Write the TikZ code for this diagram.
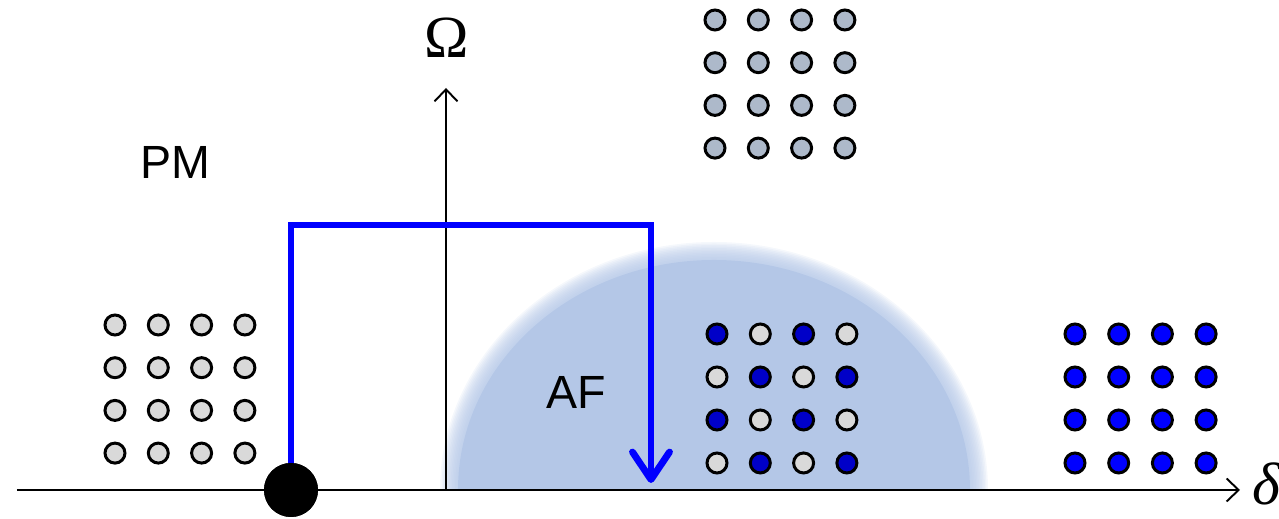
\documentclass[tikz,border=0pt]{standalone}
\usepackage{fontspec}
\setmainfont{Liberation Sans}
\newfontfamily\greekfont{Liberation Serif}
\usetikzlibrary{arrows.meta, positioning}
\definecolor{afblue}{HTML}{B4C7E7}
\definecolor{pmgray}{HTML}{D9D9D9}
\definecolor{hotgray}{HTML}{ADB9CA}
\definecolor{spindk}{HTML}{0000C8}
\definecolor{spinbr}{HTML}{0000FF}
\definecolor{pathblue}{HTML}{0000FF}

\begin{document}
\begin{tikzpicture}[
    x=0.02cm, y=0.02cm,
    axis/.style={line width=1.1pt, -{Straight Barb[length=2.4mm, width=4.6mm]}},
    spin/.style={circle, draw=black, line width=1.7pt, minimum size=0.4cm, inner sep=0pt},
    phase/.style={font=\fontsize{26.5}{30}\selectfont},
    sweep/.style={pathblue, line width=3.9pt,
      -{Straight Barb[length=5.5mm, width=7.4mm, line cap=round, line join=round]}},
  ]

  % Frame of the picture
  \useasboundingbox (-446,-29) rectangle (833,490);

  % === AF dome (soft edge) ===
  \begin{scope}
    \clip (-20,0) rectangle (600,300);
    \fill[afblue] (268,0) ellipse (256 and 230);
    \foreach \d in {-10,-8.5,...,8}
      \fill[afblue, opacity=0.13] (268,0) ellipse ({266+\d} and {240+\d});
  \end{scope}

  % === Axes ===
  \coordinate (origin) at (0,0);
  \coordinate (dleft) at (-429,0);
  \coordinate (dright) at (794,0);
  \coordinate (otop) at (0,402);
  \draw[axis] (dleft) -- (dright);
  \draw[axis] (origin) -- (otop);
  \node[font=\fontsize{34}{40}\selectfont\greekfont] (omega) at (1,452) {Ω};
  \node[font=\fontsize{34}{40}\selectfont\greekfont\itshape] (delta) at (820,6) {δ};

  % === Phase labels ===
  \node[phase] (pm) at (-271,328) {PM};
  \node[phase] (af) at (130,98) {AF};

  % === Spin lattices ===
  % paramagnet
  \foreach \i in {0,...,3}
    \foreach \j in {0,...,3}
      \node[spin, fill=pmgray] (pm-\i-\j) at (-331+43.3*\i, 165-42.7*\j) {};
  % strong drive
  \foreach \i in {0,...,3}
    \foreach \j in {0,...,3}
      \node[spin, fill=hotgray] (top-\i-\j) at (269+43.3*\i, 470-42.7*\j) {};
  % antiferromagnet
  \foreach \i in {0,...,3}
    \foreach \j in {0,...,3} {
      \pgfmathtruncatemacro{\parity}{mod(\i+\j,2)}
      \ifnum\parity=0
        \node[spin, fill=spindk] (af-\i-\j) at (271+43.3*\i, 156-43*\j) {};
      \else
        \node[spin, fill=pmgray] (af-\i-\j) at (271+43.3*\i, 156-43*\j) {};
      \fi
    }
  % polarised
  \foreach \i in {0,...,3}
    \foreach \j in {0,...,3}
      \node[spin, fill=spinbr] (fm-\i-\j) at (629+43.7*\i, 156-43*\j) {};

  % === Sweep path ===
  \node[circle, fill=black, minimum size=1.08cm, inner sep=0pt] (start) at (-155,0) {};
  \coordinate (turn) at (205,265);
  \coordinate (stop) at (205,7);
  \draw[sweep, line join=miter] (start.center) |- (turn) -- (stop);
  \node[circle, fill=black, minimum size=1.08cm, inner sep=0pt] at (start) {};

\end{tikzpicture}
\end{document}
